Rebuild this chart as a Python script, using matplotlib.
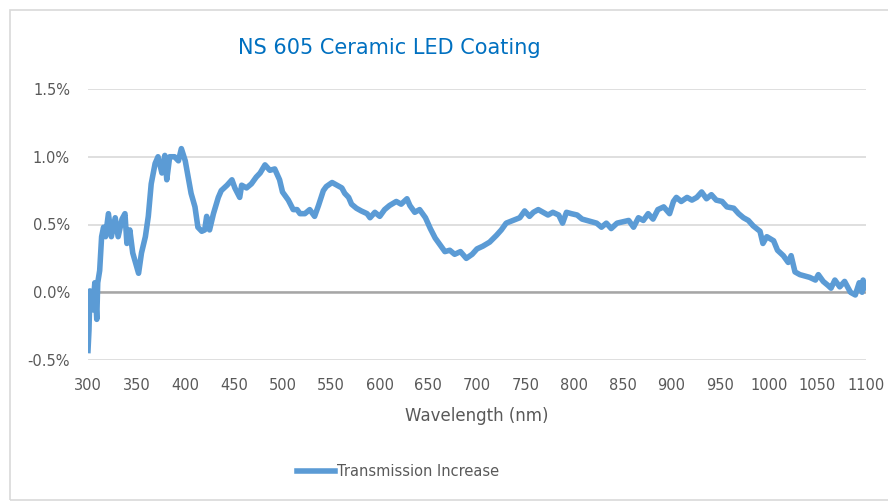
import matplotlib
matplotlib.use('Agg')
import matplotlib.pyplot as plt
from matplotlib.patches import Rectangle
from matplotlib.ticker import FuncFormatter, MultipleLocator

# wavelength (nm) and transmission increase (%)
wavelength = [
    300, 301, 302, 305, 307, 309, 310, 312, 314, 316, 318, 321, 324, 328, 331, 335, 338, 340, 343, 346,
    352, 355, 359, 362, 365, 369, 372, 376, 379, 381, 384, 389, 393, 396, 400, 403, 406, 410, 413, 417,
    420, 422, 425, 429, 434, 437, 443, 448, 451, 456, 458, 463, 468, 473, 477, 482, 487, 492, 497, 500,
    506, 511, 515, 518, 523, 528, 533, 537, 542, 545, 551, 556, 561, 564, 568, 571, 576, 581, 587, 590,
    595, 600, 605, 610, 617, 622, 628, 631, 636, 641, 647, 652, 657, 662, 667, 672, 677, 683, 689, 695,
    700, 706, 713, 720, 725, 730, 737, 744, 749, 754, 758, 763, 768, 773, 778, 784, 788, 792, 797, 803,
    808, 813, 818, 823, 828, 833, 838, 844, 850, 856, 861, 866, 871, 876, 881, 886, 892, 898, 902, 905,
    910, 916, 921, 926, 931, 936, 941, 946, 952, 957, 964, 969, 974, 979, 984, 991, 994, 998, 1005, 1009,
    1015, 1020, 1023, 1027, 1032, 1037, 1042, 1048, 1051, 1056, 1061, 1064, 1068, 1073, 1078, 1084, 1089,
    1093, 1096, 1097, 1098,
]
transmission = [
    -0.43, -0.28, 0.01, -0.13, 0.07, -0.20, 0.07, 0.16, 0.41, 0.48, 0.41, 0.58, 0.41, 0.55, 0.41, 0.54,
    0.58, 0.36, 0.46, 0.29, 0.14, 0.29, 0.41, 0.56, 0.80, 0.95, 1.00, 0.88, 1.01, 0.83, 1.00, 1.00, 0.97,
    1.06, 0.97, 0.85, 0.73, 0.63, 0.48, 0.45, 0.46, 0.56, 0.46, 0.58, 0.70, 0.75, 0.79, 0.83, 0.77, 0.70,
    0.79, 0.77, 0.80, 0.85, 0.88, 0.94, 0.90, 0.91, 0.83, 0.74, 0.68, 0.61, 0.61, 0.58, 0.58, 0.61, 0.56,
    0.64, 0.75, 0.78, 0.81, 0.79, 0.77, 0.73, 0.70, 0.65, 0.62, 0.60, 0.58, 0.55, 0.59, 0.56, 0.61, 0.64,
    0.67, 0.65, 0.69, 0.64, 0.59, 0.61, 0.55, 0.47, 0.40, 0.35, 0.30, 0.31, 0.28, 0.30, 0.25, 0.28, 0.32,
    0.34, 0.37, 0.42, 0.46, 0.51, 0.53, 0.55, 0.60, 0.56, 0.59, 0.61, 0.59, 0.57, 0.59, 0.57, 0.51, 0.59,
    0.58, 0.57, 0.54, 0.53, 0.52, 0.51, 0.48, 0.51, 0.47, 0.51, 0.52, 0.53, 0.48, 0.55, 0.53, 0.58, 0.54,
    0.61, 0.63, 0.58, 0.67, 0.70, 0.67, 0.70, 0.68, 0.70, 0.74, 0.69, 0.72, 0.68, 0.67, 0.63, 0.62, 0.58,
    0.55, 0.53, 0.49, 0.45, 0.36, 0.41, 0.38, 0.31, 0.27, 0.22, 0.27, 0.15, 0.13, 0.12, 0.11, 0.09, 0.13,
    0.08, 0.05, 0.03, 0.09, 0.04, 0.08, 0.00, -0.02, 0.07, 0.00, 0.09, 0.03,
]
x_ticks = [300, 350, 400, 450, 500, 550, 600, 650, 700, 750, 800, 850, 900, 950, 1000, 1050, 1100]

fig = plt.figure(figsize=(8.88, 5.04), dpi=100)
fig.patches.append(Rectangle((10 / 888, 4 / 504), 1.0, 490 / 504, transform=fig.transFigure,
                             fill=False, edgecolor='#d9d9d9', linewidth=1.2))

ax = fig.add_axes([88 / 888, 1 - 360 / 504, 778 / 888, 271 / 504])
ax.plot(wavelength, transmission, color='#5b9bd5', linewidth=4, solid_joinstyle='round',
        label='Transmission Increase', zorder=3)

ax.set_xlim(300, 1100)
ax.set_ylim(-0.5, 1.5)
ax.set_xticks(x_ticks)
ax.yaxis.set_major_locator(MultipleLocator(0.5))
ax.yaxis.set_major_formatter(FuncFormatter(lambda v, p: '{:.1f}%'.format(v)))
ax.grid(axis='y', color='#d9d9d9', linewidth=1.2)
ax.axhline(0, color='#a6a6a6', linewidth=1.8, zorder=2)
for s in ax.spines.values():
    s.set_visible(False)
ax.tick_params(length=0, labelsize=10.5, labelcolor='#595959')
ax.tick_params(axis='x', pad=13)
ax.tick_params(axis='y', pad=13)

fig.text(389 / 888, 1 - 48 / 504, 'NS 605 Ceramic LED Coating', ha='center', va='center',
         fontsize=15, color='#0070c0')
ax.set_xlabel('Wavelength (nm)', fontsize=12, color='#595959', labelpad=10)

fig.legend(loc='center', bbox_to_anchor=(398 / 888, 1 - 472 / 504), frameon=False,
           fontsize=10.5, labelcolor='#595959', handlelength=2.6, handletextpad=0.1)

fig.savefig('out.png', dpi=100)
